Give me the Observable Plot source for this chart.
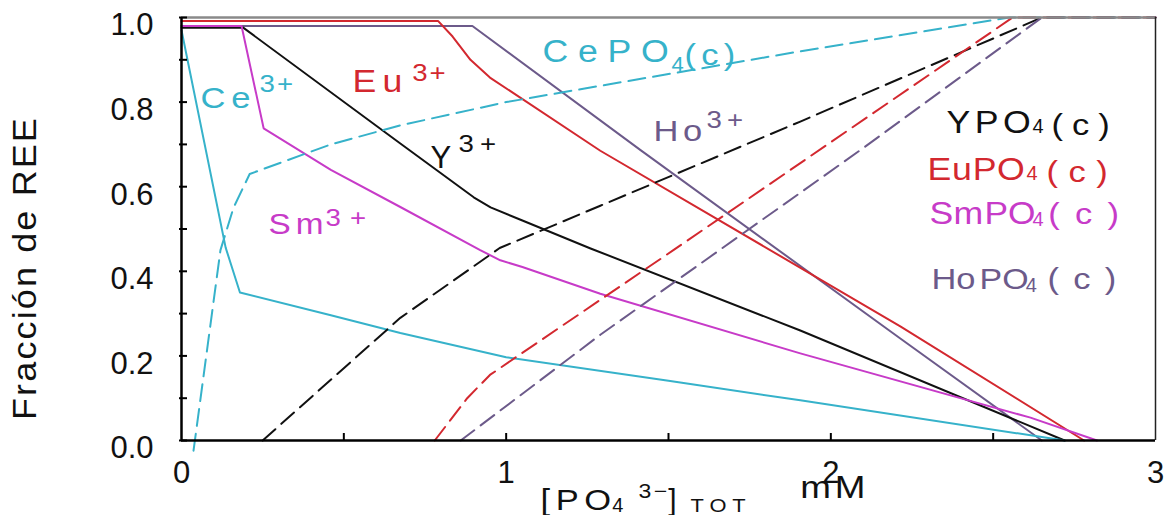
<!DOCTYPE html>
<html>
<head>
<meta charset="utf-8">
<script src="https://cdn.jsdelivr.net/npm/d3@7"></script>
<script src="https://cdn.jsdelivr.net/npm/@observablehq/plot@0.6"></script>
<style>
  html, body { margin: 0; padding: 0; background: #fff; overflow: hidden; }
  #chart svg { display: block; }
</style>
</head>
<body>
<div id="chart"></div>
<script>
// ---- tick labels ----
const xTicks = [0, 1, 2, 3];
const xMinorTicks = [0.5, 1, 1.5, 2, 2.5];
const yTicks = [0, 0.2, 0.4, 0.6, 0.8, 1.0];
const yMinorTicks = [0, 0.1, 0.2, 0.3, 0.4, 0.5, 0.6, 0.7, 0.8, 0.9, 1.0];
const xDomain = [0, 3];
const yDomain = [0, 1];

// ---- series (x = [PO4 3-]TOT mM, y = fracción) ----
const ce3X = [0, 0.136, 0.18, 0.46, 0.674, 1.0, 1.5, 1.906, 2.72];
const ce3Y = [0.97, 0.456, 0.35, 0.296, 0.254, 0.197, 0.141, 0.095, 0];

const eu3X = [0, 0.79, 0.835, 0.89, 0.95, 1.29, 2.214, 2.78];
const eu3Y = [0.992, 0.992, 0.955, 0.9, 0.858, 0.685, 0.27, 0];

const ho3X = [0, 0.896, 1.415, 2.214, 2.65];
const ho3Y = [0.98, 0.98, 0.686, 0.241, 0];

const y3X = [0, 0.19, 0.674, 0.90, 0.952, 1.05, 1.26, 1.906, 2.72];
const y3Y = [0.976, 0.976, 0.702, 0.575, 0.551, 0.52, 0.454, 0.26, 0];

const sm3X = [0, 0.185, 0.253, 0.46, 0.674, 0.92, 0.982, 1.05, 1.29, 1.906, 2.615, 2.82];
const sm3Y = [0.98, 0.98, 0.738, 0.64, 0.552, 0.45, 0.426, 0.41, 0.347, 0.206, 0.054, 0];

const cePO4X = [0.037, 0.12, 0.16, 0.21, 0.46, 0.674, 1.0, 1.906, 2.55, 3];
const cePO4Y = [-0.024, 0.45, 0.55, 0.63, 0.70, 0.745, 0.80, 0.92, 1.0, 1.0];

const yPO4X = [0.25, 0.674, 0.98, 1.29, 1.906, 2.65, 3];
const yPO4Y = [0, 0.29, 0.455, 0.555, 0.754, 1.0, 1.0];

const euPO4X = [0.78, 0.88, 0.95, 1.515, 2.56, 3];
const euPO4Y = [0, 0.10, 0.155, 0.45, 1.0, 1.0];

const hoPO4X = [0.86, 1.29, 2.09, 2.65, 3];
const hoPO4Y = [0, 0.25, 0.686, 1.0, 1.0];

// ---- styling ----
const palette = {Ce: "#36b2ca", Eu: "#d3282f", Ho: "#6c5a8a", Y: "#111111", Sm: "#c73bc8"};
const series = [
  {name: "Ho3+", el: "Ho", xs: ho3X, ys: ho3Y, dashed: false},
  {name: "Eu3+", el: "Eu", xs: eu3X, ys: eu3Y, dashed: false},
  {name: "Y3+", el: "Y", xs: y3X, ys: y3Y, dashed: false},
  {name: "Sm3+", el: "Sm", xs: sm3X, ys: sm3Y, dashed: false},
  {name: "Ce3+", el: "Ce", xs: ce3X, ys: ce3Y, dashed: false},
  {name: "CePO4(c)", el: "Ce", xs: cePO4X, ys: cePO4Y, dashed: true},
  {name: "YPO4(c)", el: "Y", xs: yPO4X, ys: yPO4Y, dashed: true},
  {name: "EuPO4(c)", el: "Eu", xs: euPO4X, ys: euPO4Y, dashed: true},
  {name: "HoPO4(c)", el: "Ho", xs: hoPO4X, ys: hoPO4Y, dashed: true}
];

// ---- in-plot labels (data units), font size and drawn length ----
const annots = [
  {t: "Ce", el: "Ce", x: 0.0585, y: 0.787, fs: 30, len: 56},
  {t: "3+", el: "Ce", x: 0.240, y: 0.825, fs: 24, len: 36},
  {t: "Eu", el: "Eu", x: 0.527, y: 0.823, fs: 31, len: 56},
  {t: "3+", el: "Eu", x: 0.711, y: 0.851, fs: 24, len: 35},
  {t: "CePO", el: "Ce", x: 1.112, y: 0.894, fs: 31, len: 136},
  {t: "4", el: "Ce", x: 1.509, y: 0.872, fs: 22, len: null},
  {t: "(c)", el: "Ce", x: 1.549, y: 0.887, fs: 30, len: 56},
  {t: "Ho", el: "Ho", x: 1.454, y: 0.709, fs: 30, len: 53},
  {t: "3+", el: "Ho", x: 1.617, y: 0.738, fs: 24, len: 42},
  {t: "Y", el: "Y", x: 0.767, y: 0.645, fs: 31, len: null},
  {t: "3+", el: "Y", x: 0.853, y: 0.681, fs: 24, len: 44},
  {t: "Sm", el: "Sm", x: 0.268, y: 0.489, fs: 29, len: 60},
  {t: "3+", el: "Sm", x: 0.4435, y: 0.508, fs: 24, len: 50},
  {t: "YPO", el: "Y", x: 2.356, y: 0.726, fs: 31, len: 89},
  {t: "4", el: "Y", x: 2.621, y: 0.726, fs: 20, len: null},
  {t: "(c)", el: "Y", x: 2.680, y: 0.723, fs: 30, len: 67},
  {t: "EuPO", el: "Eu", x: 2.298, y: 0.615, fs: 31, len: 98},
  {t: "4", el: "Eu", x: 2.603, y: 0.615, fs: 20, len: null},
  {t: "(c)", el: "Eu", x: 2.664, y: 0.612, fs: 30, len: 72},
  {t: "Sm", el: "Sm", x: 2.304, y: 0.513, fs: 31, len: 54},
  {t: "PO", el: "Sm", x: 2.473, y: 0.513, fs: 31, len: 51},
  {t: "4", el: "Sm", x: 2.621, y: 0.506, fs: 20, len: null},
  {t: "(c)", el: "Sm", x: 2.670, y: 0.511, fs: 30, len: 86},
  {t: "Ho", el: "Ho", x: 2.310, y: 0.359, fs: 30, len: 44},
  {t: "PO", el: "Ho", x: 2.458, y: 0.359, fs: 30, len: 49},
  {t: "4", el: "Ho", x: 2.600, y: 0.350, fs: 20, len: null},
  {t: "(c)", el: "Ho", x: 2.667, y: 0.357, fs: 30, len: 83},
  // x-axis title: [PO4 3−]TOT  mM
  {t: "[PO", el: "Y", x: 1.106, y: -0.165, fs: 30, len: 76},
  {t: "4", el: "Y", x: 1.327, y: -0.170, fs: 20, len: null},
  {t: "3\u2212", el: "Y", x: 1.4076, y: -0.135, fs: 20, len: 31},
  {t: "]", el: "Y", x: 1.4996, y: -0.165, fs: 30, len: null},
  {t: "TOT", el: "Y", x: 1.568, y: -0.170, fs: 19, len: 61},
  {t: "mM", el: "Y", x: 1.906, y: -0.137, fs: 32, len: 69}
];
const yTitle = "Fracción de REE";

const rows = s => s.xs.map((x, i) => ({x, y: s.ys[i]}));

const chart = Plot.plot({
  width: 1166,
  height: 515,
  marginLeft: 181,
  marginRight: 11,
  marginTop: 17,
  marginBottom: 75,
  x: {domain: xDomain},
  y: {domain: yDomain},
  color: {type: "identity"},
  style: {fontFamily: "'Liberation Sans', Arial, sans-serif", fontSize: "31px", color: "#111", background: "#fff"},
  marks: [
    ...series.map(s => Plot.line(rows(s), {
      x: "x", y: "y",
      stroke: palette[s.el],
      strokeWidth: 2,
      strokeDasharray: s.dashed ? "17,8" : null
    })),
    Plot.ruleY([yDomain[1]], {stroke: "#8a8a8a", strokeWidth: 2.5}),
    Plot.ruleX([xDomain[1]], {stroke: "#222", strokeWidth: 1.5}),
    Plot.ruleX([xDomain[0]], {stroke: "#000", strokeWidth: 2.5}),
    Plot.ruleY([yDomain[0]], {stroke: "#000", strokeWidth: 2.5}),
    Plot.axisY(yMinorTicks, {fill: "none", tickSize: -8, dx: -2, strokeWidth: 2, stroke: "#000"}),
    Plot.axisY(yTicks, {tickSize: 0, tickPadding: 28, tickFormat: d3.format(".1f"), dy: 8, label: null, fontSize: 31}),
    Plot.axisX(xMinorTicks, {fill: "none", tickSize: -7, strokeWidth: 2, stroke: "#000"}),
    Plot.axisX(xTicks, {tickSize: 0, tickPadding: 20, tickFormat: d3.format("d"), label: null, fontSize: 31}),
    Plot.text(annots, {
      x: "x", y: "y", text: "t",
      fill: d => palette[d.el],
      fontSize: d => d.fs,
      textAnchor: "start",
      lineAnchor: "bottom"
    }),
    Plot.text([yTitle], {
      text: d => d,
      frameAnchor: "left",
      textAnchor: "start",
      rotate: -90,
      dx: -156,
      dy: 191,
      fontSize: 33,
      fill: "#111"
    })
  ]
});

document.getElementById("chart").appendChild(chart);

// reproduce the wide, spaced-out lettering of the original labels:
// glyphs widened ~15%, the rest of the target length as letter spacing
const GLYPH_WIDEN = 1.15;
function spreadText(el, len) {
  const n = el.textContent.length;
  const w0 = el.getComputedTextLength();
  const ls = Math.max(0, (len / GLYPH_WIDEN - w0) / n);
  el.style.letterSpacing = ls + "px";
  el.setAttribute("textLength", len);
  el.setAttribute("lengthAdjust", "spacingAndGlyphs");
}
const allTexts = Array.from(chart.querySelectorAll("text"));
let cursor = 0;
for (const a of annots) {
  for (let j = cursor; j < allTexts.length; j++) {
    if (allTexts[j].textContent === a.t) {
      if (a.len) spreadText(allTexts[j], a.len);
      cursor = j + 1;
      break;
    }
  }
}
for (const el of allTexts) {
  if (el.textContent === yTitle) {
    el.style.letterSpacing = "2px";
    el.setAttribute("textLength", 304);
    el.setAttribute("lengthAdjust", "spacingAndGlyphs");
  }
}
</script>
</body>
</html>
